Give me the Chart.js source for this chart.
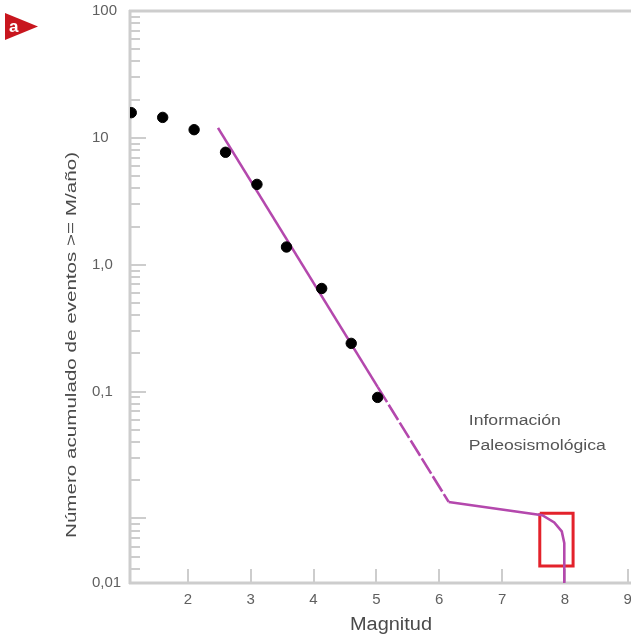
<!DOCTYPE html>
<html>
<head>
<meta charset="utf-8">
<script src="https://cdn.jsdelivr.net/npm/chart.js@4.4.1/dist/chart.umd.min.js"></script>
<style>
  html, body { margin: 0; padding: 0; background: #fff; overflow: hidden; }
  #wrap { width: 640px; height: 640px; }
</style>
</head>
<body>
<div id="wrap"><canvas id="c" width="640" height="640"></canvas></div>
<script>
// ---- data ----
const magnitudes = [1.1, 1.6, 2.1, 2.6, 3.1, 3.57, 4.13, 4.6, 5.02];
const cumulativeRate = [15.8, 14.5, 11.6, 7.7, 4.3, 1.38, 0.65, 0.24, 0.09];

const fitMagnitude = [2.48, 5.02, 6.15, 7.64, 7.83, 7.95, 7.99, 7.99];
const fitRate = [12.0, 0.109, 0.0135, 0.0106, 0.0093, 0.0079, 0.0064, 0.0031];

const boxMagnitude = [7.6, 8.13, 8.13, 7.6, 7.6];
const boxRate = [0.0110, 0.0110, 0.00423, 0.00423, 0.0110];

const xTickValues = [2, 3, 4, 5, 6, 7, 8, 9];
const yTickValues = [100, 10, 1, 0.1, 0.0031];
const yTickLabels = ['100', '10', '1,0', '0,1', '0,01'];
const yMajorTicks = [100, 10, 1, 0.1, 0.01];

const xMin = 1.08, xMax = 9.08;
const yMin = 0.0031, yMax = 100;

const yTitle = 'Número acumulado de eventos >= M/año)';
const xTitle = 'Magnitud';
const noteLines = ['Información', 'Paleosismológica'];

// minor log ticks
const yMinorTicks = [];
[0.001, 0.01, 0.1, 1, 10].forEach(d => {
  for (let k = 2; k <= 9; k++) {
    const v = +(d * k).toPrecision(3);
    if (v >= yMin && v <= yMax) yMinorTicks.push(v);
  }
});

const FONT = '"Liberation Sans", Arial, sans-serif';
const AXIS_COLOR = '#cdcdcd';

function fillFit(ctx, text, x, y, width) {
  const w = ctx.measureText(text).width;
  ctx.save();
  ctx.translate(x, y);
  ctx.scale(width / w, 1);
  ctx.fillText(text, 0, 0);
  ctx.restore();
}

const decorPlugin = {
  id: 'decor',
  beforeDatasetsDraw(chart) {
    const { ctx, chartArea: a, scales: { x, y } } = chart;
    ctx.save();
    ctx.strokeStyle = AXIS_COLOR;
    ctx.lineCap = 'butt';
    ctx.lineWidth = 2;
    yMinorTicks.forEach(v => {
      const py = Math.round(y.getPixelForValue(v));
      ctx.beginPath(); ctx.moveTo(a.left, py); ctx.lineTo(a.left + 10, py); ctx.stroke();
    });
    yMajorTicks.forEach(v => {
      const py = Math.round(y.getPixelForValue(v));
      ctx.beginPath(); ctx.moveTo(a.left, py); ctx.lineTo(a.left + 16, py); ctx.stroke();
    });
    xTickValues.forEach(v => {
      const px = Math.round(x.getPixelForValue(v));
      ctx.beginPath(); ctx.moveTo(px, a.bottom); ctx.lineTo(px, a.bottom - 14); ctx.stroke();
    });
    ctx.lineWidth = 3;
    ctx.beginPath();
    ctx.moveTo(a.left, a.top - 1); ctx.lineTo(a.left, a.bottom + 1);
    ctx.moveTo(a.left - 1, a.bottom); ctx.lineTo(640, a.bottom);
    ctx.moveTo(a.left - 1, a.top); ctx.lineTo(640, a.top);
    ctx.stroke();
    ctx.restore();
  },
  afterDraw(chart) {
    const { ctx, scales: { x, y } } = chart;
    ctx.save();
    ctx.fillStyle = '#4a4a4a';
    ctx.font = '15px ' + FONT;
    ctx.textBaseline = 'middle';
    ctx.textAlign = 'left';
    ctx.save();
    ctx.translate(72, 345);
    ctx.rotate(-Math.PI / 2);
    fillFit(ctx, yTitle, -193, 0, 386);
    ctx.restore();
    ctx.font = '18px ' + FONT;
    fillFit(ctx, xTitle, 350, 625, 82);
    ctx.fillStyle = '#555';
    ctx.font = '14px ' + FONT;
    const nx = x.getPixelForValue(6.47);
    fillFit(ctx, noteLines[0], nx, y.getPixelForValue(0.058), 92);
    fillFit(ctx, noteLines[1], nx, y.getPixelForValue(0.037), 137);
    // panel marker "a"
    ctx.fillStyle = '#c8161e';
    ctx.beginPath();
    ctx.moveTo(5, 13); ctx.lineTo(38, 26.5); ctx.lineTo(5, 40); ctx.closePath();
    ctx.fill();
    ctx.fillStyle = '#fff';
    ctx.font = 'bold 17px ' + FONT;
    ctx.textBaseline = 'alphabetic';
    ctx.fillText('a', 9, 32);
    ctx.restore();
  }
};

const chart = new Chart(document.getElementById('c'), {
  type: 'scatter',
  data: {
    datasets: [
      {
        label: 'Observado',
        data: magnitudes.map((m, i) => ({ x: m, y: cumulativeRate[i] })),
        backgroundColor: '#000',
        borderColor: '#000',
        pointRadius: 5.2,
        pointHoverRadius: 5.2,
        order: 0
      },
      {
        label: 'Ajuste',
        data: fitMagnitude.map((m, i) => ({ x: m, y: fitRate[i] })),
        showLine: true,
        borderColor: '#b448ad',
        borderWidth: 2.6,
        pointRadius: 0,
        tension: 0,
        segment: {
          borderDash: c => (c.p0DataIndex === 1 ? [18, 3] : undefined)
        },
        order: 1
      },
      {
        label: 'Recuadro',
        data: boxMagnitude.map((m, i) => ({ x: m, y: boxRate[i] })),
        showLine: true,
        borderColor: '#e3222b',
        borderWidth: 3,
        pointRadius: 0,
        tension: 0,
        order: 2
      }
    ]
  },
  options: {
    responsive: false,
    animation: false,
    events: [],
    layout: { padding: { left: 92, top: 11, right: 0, bottom: 0 } },
    plugins: { legend: { display: false }, tooltip: { enabled: false } },
    scales: {
      x: {
        type: 'linear',
        min: xMin,
        max: xMax,
        grid: { display: false, drawTicks: false },
        border: { display: false },
        afterBuildTicks: s => { s.ticks = xTickValues.map(v => ({ value: v })); },
        afterFit: s => { s.height = 57; },
        ticks: {
          autoSkip: false,
          maxRotation: 0,
          padding: 8,
          color: '#5f5f5f',
          font: { family: FONT, size: 15 },
          callback: v => String(v)
        }
      },
      y: {
        type: 'logarithmic',
        min: yMin,
        max: yMax,
        grid: { display: false, drawTicks: false },
        border: { display: false },
        afterBuildTicks: s => { s.ticks = yTickValues.map(v => ({ value: v })); },
        afterFit: s => { s.width = 38; },
        ticks: {
          autoSkip: false,
          crossAlign: 'far',
          padding: 0,
          color: '#5f5f5f',
          font: { family: FONT, size: 15 },
          callback: (v) => {
            const i = yTickValues.indexOf(v);
            return i >= 0 ? yTickLabels[i] : '';
          }
        }
      }
    }
  },
  plugins: [decorPlugin]
});
</script>
</body>
</html>
